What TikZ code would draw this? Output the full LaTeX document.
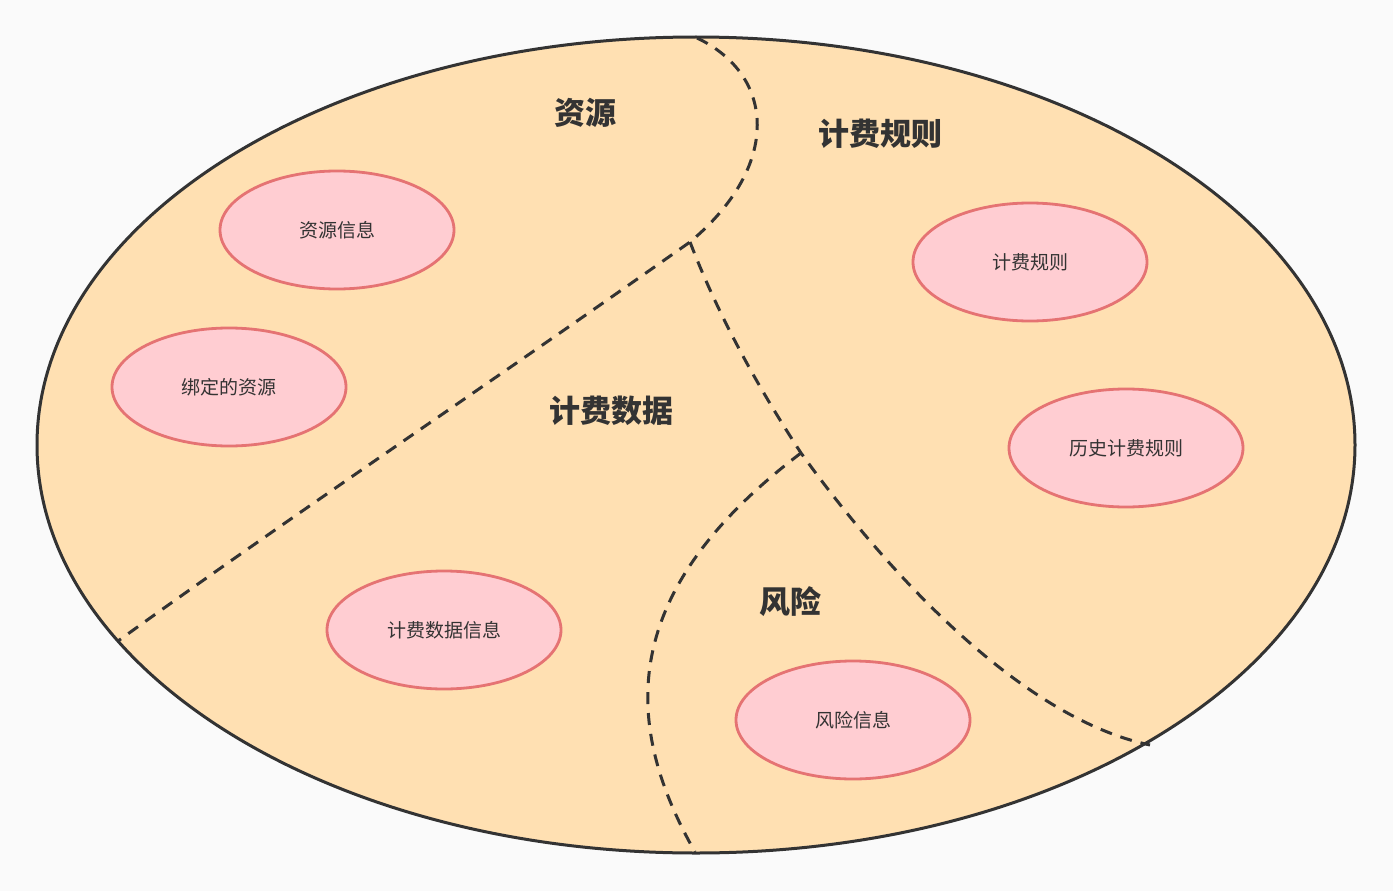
\documentclass[tikz,border=0pt]{standalone}
\usepackage{fontspec}
\newfontfamily\cjk{Noto Sans CJK SC}
\definecolor{bgc}{HTML}{FAFAFA}
\definecolor{regionfill}{HTML}{FFE0B2}
\definecolor{inkc}{HTML}{333333}
\definecolor{itemfill}{HTML}{FFCDD2}
\definecolor{itemline}{HTML}{E57373}
\tikzset{
  item/.style={ellipse, draw=itemline, fill=itemfill, line width=2.8pt,
    minimum width=234pt, minimum height=118pt, inner sep=0pt,
    font=\cjk\fontsize{19}{19}\selectfont, text=inkc},
  area/.style={font=\cjk\bfseries\fontsize{31}{31}\selectfont, text=inkc},
  border/.style={dashed, dash pattern=on 12pt off 9pt, line width=3pt, draw=inkc}
}
\usetikzlibrary{shapes.geometric}
\begin{document}
\begin{tikzpicture}[x=1pt,y=-1pt]
  \fill[bgc] (0,0) rectangle (1393,891);
  \useasboundingbox (0,0) rectangle (1393,891);
  % outer field
  \draw[fill=regionfill, draw=inkc, line width=3pt] (696,445) ellipse [x radius=659, y radius=408];
  % region borders
  \coordinate (top) at (697,38);
  \coordinate (fork) at (690,242);
  \coordinate (left) at (118,641);
  \coordinate (mid) at (801,453);
  \coordinate (right) at (1150,745);
  \coordinate (bottom) at (695,852);
  \draw[border] (top) .. controls (775,75) and (782,165) .. (fork)
                .. controls (480,390) and (300,510) .. (left);
  \draw[border] (fork) .. controls (720,320) and (760,390) .. (mid)
                .. controls (900,590) and (1030,720) .. (right);
  \draw[border] (mid) .. controls (620,590) and (620,720) .. (bottom);
  % region titles
  \node[area] (tres) at (585,113) {资源};
  \node[area] (trule) at (880,134) {计费规则};
  \node[area] (tdata) at (611,411) {计费数据};
  \node[area] (trisk) at (790,602) {风险};
  % items
  \node[item] (n1) at (337,230) {资源信息};
  \node[item] (n2) at (229,387) {绑定的资源};
  \node[item] (n3) at (1030,262) {计费规则};
  \node[item] (n4) at (1126,448) {历史计费规则};
  \node[item] (n5) at (444,630) {计费数据信息};
  \node[item] (n6) at (853,720) {风险信息};
\end{tikzpicture}
\end{document}
